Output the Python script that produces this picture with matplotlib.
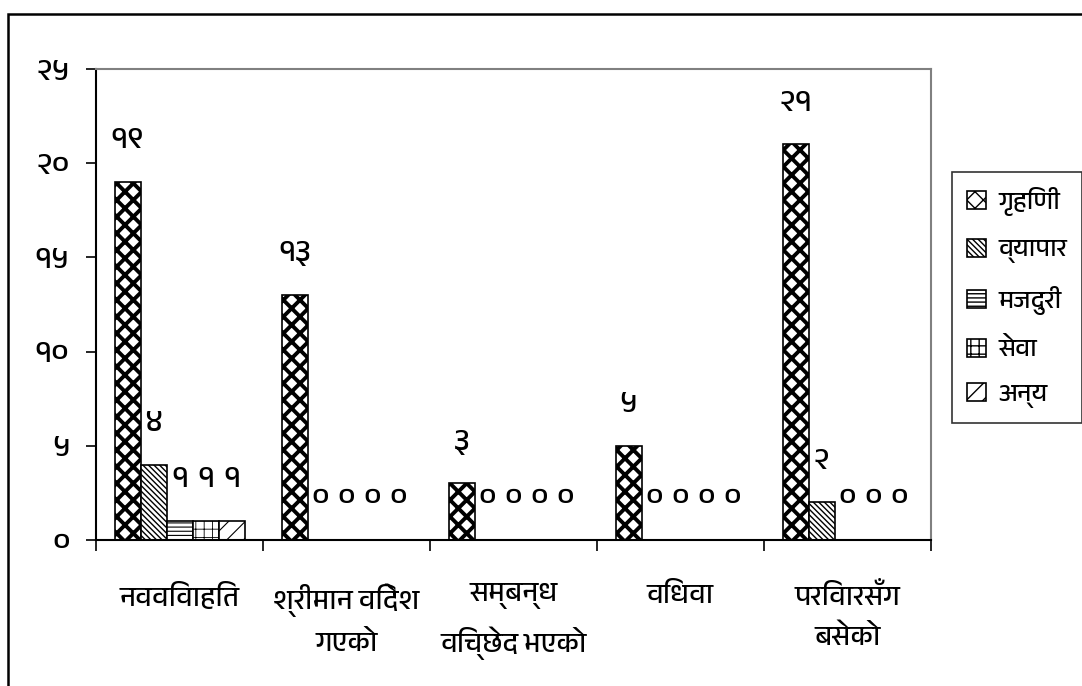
"""
Bar chart of women's occupation by marital situation (Nepali labels).
"""
import numpy as np
import matplotlib
matplotlib.use("Agg")
import matplotlib.pyplot as plt
from matplotlib import font_manager
from matplotlib.ft2font import FT2Font
from matplotlib.patches import Rectangle

categories = ["नवविवाहित", "श्रीमान विदेश\nगएको", "सम्बन्ध\nविच्छेद भएको", "विधवा", "परिवारसँग\nबसेको"]
series_names = ["गृहिणी", "व्यापार", "मजदुरी", "सेवा", "अन्य"]
grihini = [19, 13, 3, 5, 21]
byapar = [4, 0, 0, 0, 2]
majduri = [1, 0, 0, 0, 0]
sewa = [1, 0, 0, 0, 0]
anya = [1, 0, 0, 0, 0]
yticks = [0, 5, 10, 15, 20, 25]

DEVA_DIGITS = str.maketrans("0123456789", "०१२३४५६७८९")


def find_devanagari_font():
    found = []
    for f in font_manager.fontManager.ttflist:
        try:
            cmap = FT2Font(f.fname).get_charmap()
        except Exception:
            continue
        if 0x0928 in cmap and 0x0967 in cmap:
            found.append(f.name)
    if not found:
        return None
    found.sort(key=lambda n: ("Devanagari" not in n, n))
    return found[0]


deva = find_devanagari_font()
families = [deva, "DejaVu Sans"] if deva else ["DejaVu Sans"]
plt.rcParams["font.family"] = families

W, H = 1082, 686
fig = plt.figure(figsize=(W / 100, H / 100), dpi=100)
ax = fig.add_axes([96 / W, 1 - 540 / H, (931 - 96) / W, (540 - 69) / H])

series = [grihini, byapar, majduri, sewa, anya]
hatches = ["xx", "\\\\\\\\\\\\", "----", "++", "//"]
hatch_lw = [2.8, 1.0, 0.8, 0.6, 0.8]
n = len(series)
bw = 26 / 167
x = np.arange(len(categories))

for j, (vals, name) in enumerate(zip(series, series_names)):
    with plt.rc_context({"hatch.linewidth": hatch_lw[j]}):
        bars = ax.bar(x + (j - (n - 1) / 2) * bw, vals, bw, facecolor="white",
                      edgecolor="black", linewidth=1.2, hatch=hatches[j], label=name)
    for b, v in zip(bars, vals):
        ax.annotate(str(v).translate(DEVA_DIGITS),
                    (b.get_x() + b.get_width() / 2, v),
                    xytext=(0, 30), textcoords="offset points",
                    ha="center", va="center", fontsize=23)

ax.set_xlim(-0.5, len(categories) - 0.5)
ax.set_ylim(0, 25)
ax.set_yticks(yticks)
ax.set_yticklabels([str(t).translate(DEVA_DIGITS) for t in yticks], fontsize=23)
ax.tick_params(axis="y", length=7, width=1.2, pad=12)

ax.set_xticks(x)
ax.set_xticklabels(categories, fontsize=20, linespacing=1.7)
ax.tick_params(axis="x", length=0, pad=31)
ax.set_xticks(np.arange(len(categories) + 1) - 0.5, minor=True)
ax.tick_params(axis="x", which="minor", length=8, width=1.2)

for side in ["left", "bottom"]:
    ax.spines[side].set_color("black")
    ax.spines[side].set_linewidth(1.5)
for side in ["top", "right"]:
    ax.spines[side].set_color("#808080")
    ax.spines[side].set_linewidth(1.5)

leg = fig.legend(loc="upper left", bbox_to_anchor=(952 / W, 1 - 172 / H),
                 frameon=True, fancybox=False, edgecolor="black", fontsize=18,
                 handlelength=0.75, handleheight=0.75, labelspacing=0.9,
                 handletextpad=0.5, borderpad=0.6, borderaxespad=0)
leg.get_frame().set_linewidth(1.2)

# outer chart border (only left and top visible)
fig.add_artist(Rectangle((8 / W, -0.1), 1.2, 1.1 - 14 / H, transform=fig.transFigure,
                         fill=False, edgecolor="black", linewidth=1.8, clip_on=False))

fig.savefig("out.png", dpi=100)
